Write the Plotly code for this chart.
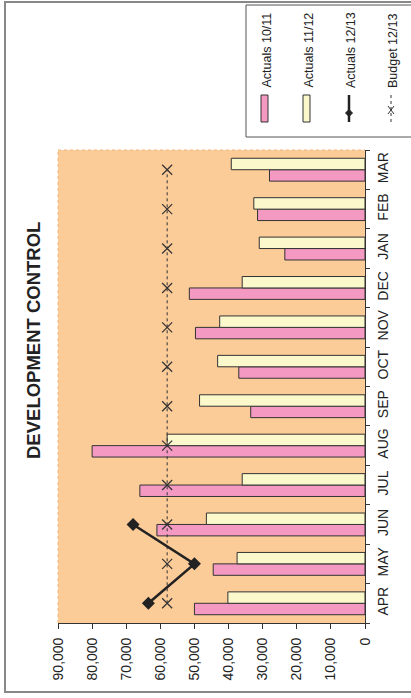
import plotly.graph_objects as go

# Monthly figures
months = ["APR", "MAY", "JUN", "JUL", "AUG", "SEP", "OCT", "NOV", "DEC", "JAN", "FEB", "MAR"]
actuals_10_11 = [50000, 44500, 61000, 66000, 80000, 33500, 37000, 49700, 51500, 23500, 31500, 28000]
actuals_11_12 = [40200, 37500, 46500, 36000, 58000, 48500, 43200, 42600, 36000, 31000, 32600, 39200]
actuals_12_13_months = ["APR", "MAY", "JUN"]
actuals_12_13 = [63500, 50000, 68000]
budget_12_13 = [58000] * 12
value_ticks = list(range(0, 90001, 10000))

W, H = 411, 698
L, R, T, B = 58, 365, 150, 623  # plot area in pixels

PINK = "#F49AC2"
CREAM = "#FBF8CC"
PEACH = "#FBCB98"
EDGE = "#333333"
FONT = "Liberation Sans, Arial, sans-serif"


def px(x):
    return (x - L) / (R - L)


def py(y):
    return (B - y) / (B - T)


fig = go.Figure()
fig.add_trace(go.Bar(y=months, x=actuals_10_11, orientation="h", name="Actuals 10/11",
                     marker=dict(color=PINK, line=dict(color=EDGE, width=1))))
fig.add_trace(go.Bar(y=months, x=actuals_11_12, orientation="h", name="Actuals 11/12",
                     marker=dict(color=CREAM, line=dict(color=EDGE, width=1))))
fig.add_trace(go.Scatter(y=months, x=budget_12_13, mode="lines+markers", name="Budget 12/13",
                         line=dict(color=EDGE, width=1, dash="dot"),
                         marker=dict(symbol="x-thin", size=10, line=dict(color=EDGE, width=1.2))))
fig.add_trace(go.Scatter(y=actuals_12_13_months, x=actuals_12_13, mode="lines+markers",
                         name="Actuals 12/13",
                         line=dict(color="#222222", width=2.5),
                         marker=dict(symbol="diamond", size=10, color="#222222")))

shapes = []
# outer frame
shapes.append(dict(type="rect", xref="paper", yref="paper",
                   x0=px(5), x1=px(420), y0=py(692), y1=py(2),
                   line=dict(color="#888888", width=2), fillcolor="rgba(0,0,0,0)", layer="below"))
# dotted edges of plot area (top and left)
shapes.append(dict(type="line", xref="paper", yref="paper", x0=0, x1=1, y0=1, y1=1,
                   line=dict(color="#F3B47C", width=1, dash="dot")))
shapes.append(dict(type="line", xref="paper", yref="paper", x0=0, x1=0, y0=0, y1=1,
                   line=dict(color="#F3B47C", width=1, dash="dot")))
# legend box
shapes.append(dict(type="rect", xref="paper", yref="paper",
                   x0=px(246), x1=px(420), y0=py(137), y1=py(5),
                   line=dict(color="#555555", width=1), fillcolor="white"))
# legend symbols
for xc, col in [(264.5, PINK), (306.5, CREAM)]:
    shapes.append(dict(type="rect", xref="paper", yref="paper",
                       x0=px(xc - 3.5), x1=px(xc + 3.5), y0=py(122), y1=py(95),
                       line=dict(color=EDGE, width=1), fillcolor=col))
shapes.append(dict(type="line", xref="paper", yref="paper",
                   x0=px(349), x1=px(349), y0=py(122), y1=py(95),
                   line=dict(color="#222222", width=2.5)))
d = 3.5
shapes.append(dict(type="path", xref="paper", yref="paper",
                   path=f"M {px(349)} {py(113 - d)} L {px(349 + d)} {py(113)} L {px(349)} {py(113 + d)} L {px(349 - d)} {py(113)} Z",
                   line=dict(color="#222222", width=1), fillcolor="#222222"))
shapes.append(dict(type="line", xref="paper", yref="paper",
                   x0=px(391), x1=px(391), y0=py(122), y1=py(95),
                   line=dict(color=EDGE, width=1, dash="dot")))
for dx in (-3, 3):
    shapes.append(dict(type="line", xref="paper", yref="paper",
                       x0=px(391 - dx), x1=px(391 + dx), y0=py(106), y1=py(114),
                       line=dict(color=EDGE, width=1)))

annotations = [
    dict(text="<b>DEVELOPMENT CONTROL</b>", xref="paper", yref="paper",
         x=px(33), y=py(341), xanchor="center", yanchor="middle", textangle=-90,
         showarrow=False, font=dict(family=FONT, size=18.5, color="#222222")),
]
for xc, label in [(267, "Actuals 10/11"), (309, "Actuals 11/12"),
                  (351, "Actuals 12/13"), (393, "Budget 12/13")]:
    annotations.append(dict(text=label, xref="paper", yref="paper",
                            x=px(xc), y=py(90), xanchor="center", yanchor="bottom",
                            textangle=-90, showarrow=False,
                            font=dict(family=FONT, size=12.5, color="#222222")))

fig.update_layout(
    width=W, height=H,
    margin=dict(l=L, r=W - R, t=T, b=H - B, pad=0),
    paper_bgcolor="white", plot_bgcolor=PEACH,
    barmode="group", bargap=0.42, bargroupgap=0,
    showlegend=False,
    font=dict(family=FONT, size=13, color="#222222"),
    shapes=shapes, annotations=annotations,
    xaxis=dict(range=[90000, 0], tickvals=value_ticks, tickformat=",", tickangle=-90,
               showgrid=False, zeroline=False, showline=True, linecolor=EDGE, linewidth=1,
               ticks="outside", ticklen=5, tickcolor=EDGE, ticklabelstandoff=3,
               tickfont=dict(family=FONT, size=14, color="#222222")),
    yaxis=dict(categoryorder="array", categoryarray=months, side="right",
               tickangle=-90, showgrid=False, zeroline=False, showline=True,
               linecolor=EDGE, linewidth=1, ticks="outside", ticklen=4, tickcolor=EDGE,
               tickson="boundaries", range=[-0.5, 11.5], ticklabelstandoff=5,
               tickfont=dict(family=FONT, size=14, color="#222222")),
)

fig.write_html("out.html")
